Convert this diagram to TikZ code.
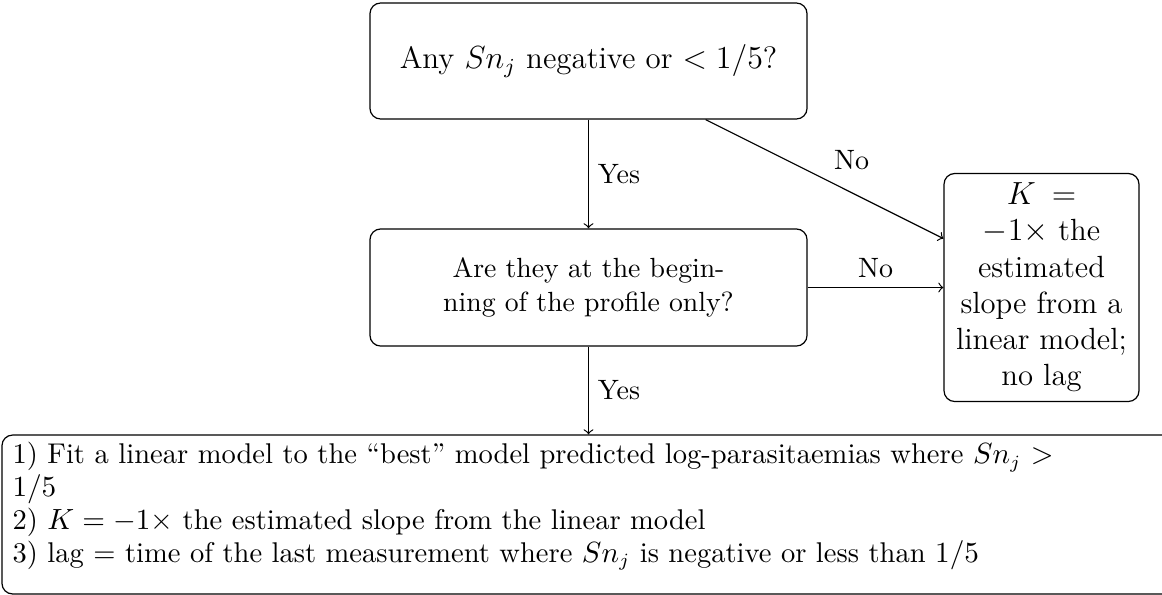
\documentclass[tikz,border=0pt]{standalone}
\usetikzlibrary{calc}
\begin{document}
\tikzset{
  box/.style={draw, rounded corners=4pt, line width=0.45pt, align=center, inner sep=0pt},
  lbl/.style={font=\fontsize{10.5}{12}\selectfont},
  conn/.style={->, line width=0.45pt},
}
\begin{tikzpicture}[x=0.375pt, y=-0.375pt]
\useasboundingbox (0,0) rectangle (1162,594);
\clip (0,0) rectangle (1162,594);
\node[box, minimum width=163.9pt, minimum height=43.5pt, font=\fontsize{11.6}{14}\selectfont] (top) at (588.5,61)
  {Any $Sn_j$ negative or $< 1/5$?};
\node[box, minimum width=163.9pt, minimum height=43.9pt, font=\fontsize{10.4}{13}\selectfont] (mid) at (588.5,287.5)
  {Are they at the begin-\\ning of the profile only?};
\node[box, minimum width=73.1pt, minimum height=85.5pt, font=\fontsize{11.5}{13.6}\selectfont] (right) at (1041.5,287.5)
  {$K$\hspace{6pt}$=$\\$-1\times$ the\\estimated\\slope from a\\linear model;\\no lag};
\node[box, minimum width=439.9pt, minimum height=59.6pt] (bot) at (588.5,514.5) {};
\node[anchor=north west, inner sep=0pt, align=left, font=\fontsize{10.7}{12.3}\selectfont] (bottext) at (12,442)
  {\makebox[390.4pt][s]{1) Fit a linear model to the “best” model predicted log-parasitaemias where $Sn_j$ $>$}\\
   $1/5$\\
   2) $K = -1\times$ the estimated slope from the linear model\\
   3) lag = time of the last measurement where $Sn_j$ is negative or less than $1/5$};
\draw[conn] (top) -- node[lbl, right] {Yes} (mid);
\draw[conn] (top) -- node[lbl, above right] {No} (right);
\draw[conn] (mid) -- node[lbl, above] {No} (right);
\draw[conn] (mid) -- node[lbl, right] {Yes} (bot);
\end{tikzpicture}
\end{document}
